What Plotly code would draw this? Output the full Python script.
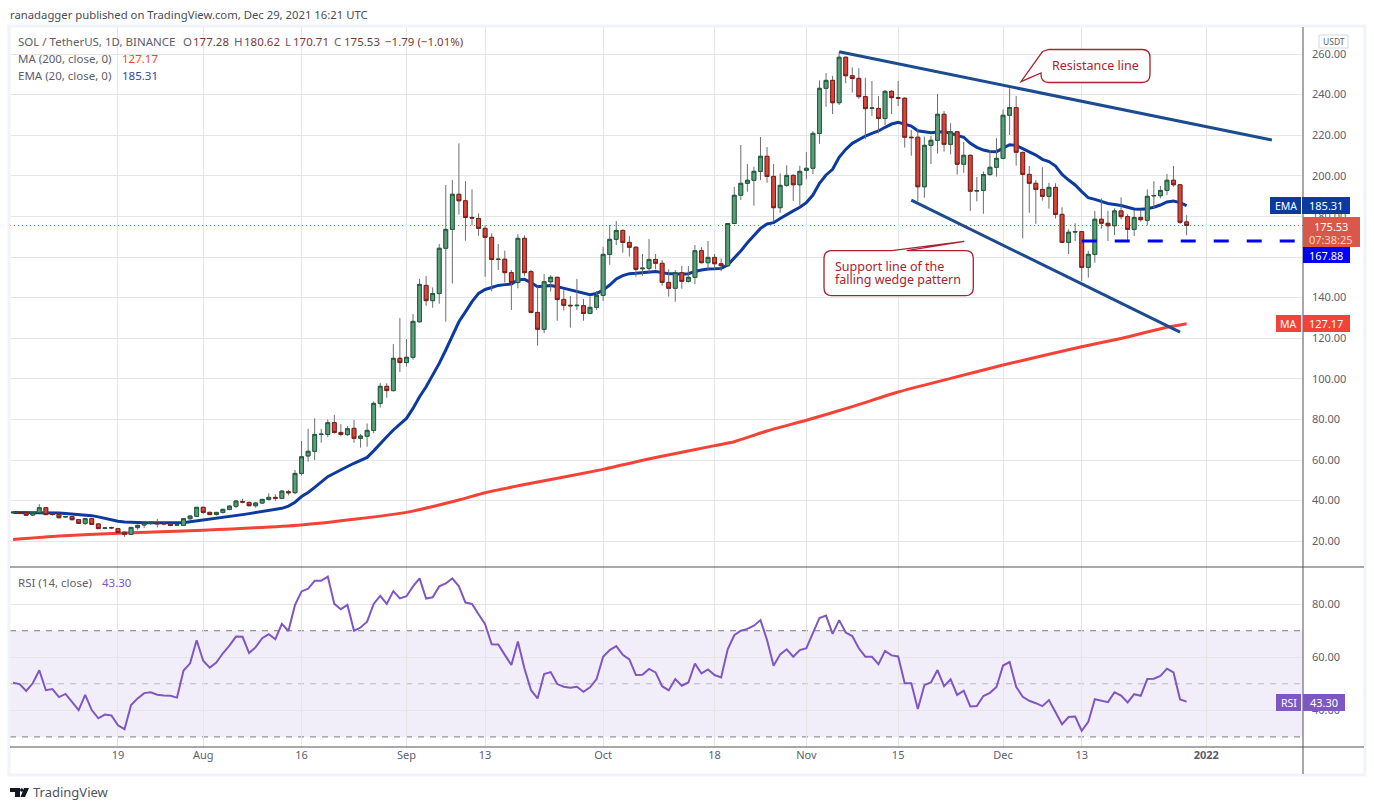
import pandas as pd
import plotly.graph_objects as go

W, H = 1374, 810

# ---------------------------------------------------------------- #
# Chart values
# ---------------------------------------------------------------- #
first_day = "2021-07-03"

open_ = [34.0, 34.3, 34.1, 32.9, 34.2, 36.5, 33.5, 33.2, 32.0, 32.1, 30.6, 28.8, 31.1, 28.5, 26.4, 26.7,
         26.2, 24.4, 23.4, 26.7, 28.0, 28.8, 29.1, 28.7, 28.5, 27.9, 27.8, 31.1, 32.3, 36.7, 34.2, 33.2,
         34.2, 35.7, 37.2, 39.6, 39.1, 37.5, 38.8, 40.6, 41.6, 41.1, 44.4, 43.9, 53.4, 62.0, 64.3, 72.6,
         72.6, 78.4, 73.6, 72.5, 75.6, 70.7, 71.7, 74.6, 87.9, 96.3, 94.2, 110.1, 108.0, 110.6, 128.1, 146.0,
         138.5, 142.0, 164.3, 173.6, 190.9, 187.7, 179.5, 179.0, 174.1, 169.7, 158.8, 158.9, 152.3, 147.4, 169.2, 152.8,
         132.7, 124.4, 147.8, 150.0, 139.1, 136.2, 136.0, 136.0, 132.2, 135.2, 141.1, 161.3, 168.7, 173.1, 167.2, 164.8,
         154.2, 154.4, 158.8, 156.9, 147.5, 144.6, 152.3, 148.0, 150.0, 163.1, 157.2, 159.8, 156.7, 155.7, 176.5, 190.4,
         196.3, 197.8, 202.2, 209.6, 199.7, 184.3, 195.3, 200.2, 195.6, 202.7, 203.7, 220.9, 243.1, 247.0, 236.0, 258.4,
         249.3, 248.0, 239.0, 233.2, 233.2, 228.2, 241.6, 238.5, 238.2, 219.0, 219.0, 194.6, 215.0, 217.5, 230.3, 215.5,
         221.7, 205.7, 210.1, 192.5, 192.8, 200.6, 204.2, 208.6, 229.8, 233.6, 211.5, 200.7, 196.3, 193.3, 189.9, 194.3,
         181.0, 167.2, 172.3, 172.5, 154.9, 161.3, 178.6, 176.6, 175.4, 182.7, 179.9, 173.6, 179.5, 178.1, 190.1, 190.2,
         192.8, 197.8, 195.6, 177.28]
high = [34.9, 34.9, 34.4, 34.4, 38.3, 36.7, 33.9, 33.5, 32.3, 32.3, 30.8, 31.4, 31.3, 28.8, 26.9, 27.2,
        26.5, 24.8, 27.0, 28.2, 29.0, 29.8, 31.0, 30.0, 28.8, 28.4, 31.4, 32.8, 36.9, 37.0, 34.6, 34.4,
        36.0, 37.6, 40.4, 40.9, 39.6, 39.4, 40.9, 43.6, 43.1, 45.2, 45.3, 55.1, 69.4, 75.3, 80.5, 75.3,
        80.0, 82.2, 77.7, 76.7, 79.7, 72.8, 78.0, 88.9, 97.9, 97.8, 117.1, 130.0, 119.6, 131.9, 149.2, 150.6,
        145.0, 166.4, 195.5, 197.9, 216.0, 197.4, 193.3, 181.5, 175.5, 171.7, 166.4, 163.1, 153.6, 171.3, 170.7, 153.6,
        145.4, 151.6, 151.0, 150.2, 144.0, 140.8, 149.2, 139.3, 140.5, 143.2, 165.0, 175.8, 177.7, 173.6, 170.3, 165.4,
        161.5, 168.9, 161.5, 158.5, 153.9, 153.6, 155.6, 155.6, 165.9, 164.8, 167.9, 161.5, 159.3, 176.8, 194.5, 215.2,
        205.8, 204.5, 219.1, 214.2, 205.8, 201.2, 205.2, 200.8, 205.0, 211.7, 222.0, 247.0, 250.6, 249.2, 261.0, 258.7,
        253.4, 253.0, 248.3, 246.7, 239.3, 242.3, 242.3, 246.7, 238.7, 222.6, 222.9, 219.3, 219.6, 240.3, 231.9, 225.9,
        222.0, 216.7, 210.5, 199.4, 202.2, 212.7, 218.5, 232.7, 243.1, 239.3, 212.0, 204.8, 197.9, 204.2, 196.6, 196.3,
        184.5, 173.6, 176.6, 172.8, 163.1, 182.7, 188.9, 182.7, 184.0, 189.4, 181.0, 183.2, 183.2, 193.3, 197.4, 195.0,
        200.9, 204.8, 195.9, 180.62]
low = [33.6, 33.8, 32.5, 32.6, 33.9, 32.9, 32.6, 31.2, 31.7, 30.3, 28.6, 27.9, 28.1, 26.0, 25.9, 26.0,
       24.0, 22.2, 23.1, 25.6, 26.6, 28.0, 26.8, 27.8, 27.4, 27.6, 27.5, 30.5, 32.0, 33.5, 32.9, 32.6,
       33.6, 35.2, 36.3, 38.6, 37.1, 36.5, 38.4, 40.0, 39.8, 40.9, 42.6, 43.2, 52.3, 59.2, 60.0, 68.5,
       71.2, 73.0, 71.7, 72.0, 68.5, 66.1, 66.6, 73.1, 85.8, 90.7, 93.7, 103.4, 106.0, 109.4, 127.7, 136.0,
       135.0, 137.0, 128.1, 146.9, 180.9, 168.0, 175.6, 170.5, 150.3, 143.2, 153.6, 147.4, 133.9, 144.6, 150.6, 132.2,
       116.3, 122.4, 143.0, 128.6, 133.6, 125.2, 133.9, 128.6, 131.8, 133.9, 138.3, 156.2, 165.9, 162.1, 160.2, 150.3,
       150.8, 152.4, 153.9, 145.9, 140.5, 138.0, 144.4, 147.4, 146.7, 156.9, 153.1, 154.0, 153.1, 155.3, 176.2, 188.1,
       192.2, 185.3, 197.9, 196.6, 177.4, 181.8, 194.6, 187.6, 185.6, 198.3, 200.9, 215.8, 234.0, 230.4, 234.9, 245.6,
       241.0, 238.0, 218.0, 229.5, 220.9, 225.0, 230.4, 234.4, 213.9, 209.9, 187.4, 189.2, 205.8, 211.0, 211.9, 210.6,
       200.6, 201.5, 182.7, 187.4, 181.3, 200.0, 199.6, 208.1, 220.1, 205.0, 169.2, 181.8, 176.3, 187.8, 183.8, 179.0,
       167.2, 161.5, 167.9, 148.3, 149.8, 157.2, 174.0, 167.9, 170.8, 178.6, 168.0, 170.3, 177.4, 175.6, 184.0, 188.9,
       190.5, 194.6, 176.3, 170.71]
close = [34.3, 34.2, 32.8, 34.2, 36.5, 33.1, 33.2, 31.6, 32.1, 30.6, 28.8, 31.1, 28.3, 26.2, 26.5, 26.6,
         24.2, 23.4, 26.8, 27.8, 28.8, 29.3, 28.6, 28.6, 27.8, 28.0, 31.1, 32.4, 36.7, 34.2, 33.1, 34.2,
         35.7, 37.3, 39.8, 39.3, 37.5, 38.8, 40.6, 41.6, 41.1, 44.7, 43.9, 53.4, 61.6, 64.3, 72.6, 72.7,
         78.4, 73.6, 72.6, 75.4, 70.7, 71.8, 74.6, 87.9, 96.3, 94.2, 110.1, 108.0, 110.6, 128.3, 146.5, 138.5,
         142.0, 164.3, 173.6, 190.9, 187.7, 179.5, 179.2, 174.1, 169.7, 158.8, 158.9, 152.3, 147.4, 169.2, 152.3, 132.7,
         124.4, 147.8, 150.0, 139.1, 136.2, 136.0, 136.2, 132.2, 135.2, 141.1, 161.3, 168.7, 173.1, 167.2, 164.8, 153.9,
         154.5, 158.8, 156.9, 147.5, 144.6, 152.3, 148.0, 150.0, 163.1, 157.2, 159.8, 156.7, 155.7, 176.5, 190.4, 196.3,
         197.8, 202.2, 209.6, 199.7, 184.3, 195.3, 200.2, 195.6, 202.2, 203.7, 220.9, 243.1, 247.0, 236.0, 258.4, 249.3,
         247.9, 239.0, 233.1, 233.4, 228.2, 241.6, 238.5, 238.2, 219.0, 218.8, 194.6, 215.0, 217.5, 230.3, 215.5, 221.7,
         205.7, 210.1, 192.4, 192.7, 200.6, 204.2, 208.6, 229.8, 233.6, 211.6, 200.7, 196.3, 193.3, 189.9, 194.3, 181.0,
         167.2, 172.2, 172.5, 154.9, 161.3, 178.6, 176.6, 175.4, 182.7, 179.9, 173.6, 179.5, 178.4, 189.9, 190.3, 192.8,
         197.8, 195.6, 177.1, 175.53]

ema20 = [34.1, 34.1, 34.1, 34.2, 34.2, 34.2, 34.1, 33.9, 33.7, 33.5, 33.3, 33.1, 32.6, 32.0, 31.3, 30.6,
         29.8, 29.5, 29.3, 29.2, 29.1, 29.1, 29.1, 29.1, 29.1, 29.1, 29.1, 29.6, 30.0, 30.4, 30.8, 31.2,
         31.7, 32.1, 32.6, 33.1, 33.6, 34.1, 34.6, 35.1, 35.7, 36.2, 37.3, 39.2, 42.0, 44.0, 46.5, 49.2,
         51.8, 53.5, 55.0, 56.8, 58.4, 59.8, 61.3, 64.5, 68.2, 71.5, 74.8, 77.7, 80.5, 85.4, 91.2, 96.1,
         101.9, 107.6, 114.2, 121.6, 128.1, 133.0, 138.0, 142.1, 144.0, 145.0, 146.0, 146.4, 146.7, 148.7, 149.0, 147.4,
         145.4, 145.7, 145.9, 145.4, 144.6, 143.7, 142.9, 141.9, 141.4, 142.0, 143.7, 146.2, 149.2, 150.8, 151.8, 152.0,
         152.3, 152.8, 152.9, 152.3, 151.8, 151.8, 151.5, 151.8, 152.9, 153.6, 154.1, 154.2, 154.4, 156.1, 159.3, 163.0,
         167.0, 170.8, 174.1, 176.3, 176.9, 179.0, 181.0, 182.7, 184.5, 186.8, 190.5, 196.3, 200.4, 203.2, 209.1, 213.0,
         216.0, 218.0, 219.6, 220.9, 222.1, 223.9, 225.5, 226.3, 225.4, 224.5, 222.2, 221.6, 221.2, 221.6, 221.7, 220.9,
         220.1, 219.0, 216.0, 214.0, 212.7, 212.0, 211.9, 213.5, 215.3, 215.0, 213.5, 212.0, 210.2, 208.1, 207.0, 204.8,
         200.7, 197.9, 195.5, 192.2, 189.2, 188.4, 187.4, 186.4, 185.9, 185.4, 184.5, 183.7, 183.5, 183.8, 184.5, 185.6,
         187.1, 187.6, 186.8, 185.31]

rsi14 = [50.4, 49.9, 47.3, 50.2, 55.1, 47.6, 48.0, 45.0, 46.2, 43.3, 40.1, 45.8, 40.1, 37.0, 38.4, 38.1,
         34.4, 32.9, 42.0, 44.5, 46.5, 46.8, 45.9, 45.6, 45.5, 44.8, 55.0, 57.7, 66.4, 58.7, 56.1, 58.0,
         61.5, 64.4, 67.8, 67.7, 61.6, 63.8, 67.2, 68.7, 66.8, 72.6, 69.9, 79.7, 84.8, 85.8, 88.8, 88.8,
         90.4, 80.1, 78.1, 79.7, 70.0, 71.2, 73.4, 80.1, 83.1, 80.1, 84.9, 82.2, 83.0, 86.7, 89.7, 82.1,
         82.6, 86.7, 87.8, 89.7, 86.7, 80.6, 80.1, 76.2, 72.5, 64.9, 64.8, 60.9, 57.1, 65.9, 55.8, 47.6,
         44.5, 53.7, 54.4, 49.9, 48.9, 48.5, 48.9, 47.0, 48.7, 51.8, 60.2, 62.7, 64.2, 60.9, 59.2, 53.3,
         53.4, 55.6, 54.3, 49.1, 47.5, 51.8, 49.3, 50.5, 57.6, 53.9, 55.4, 53.3, 52.4, 63.0, 68.3, 70.0,
         70.7, 71.9, 74.0, 66.5, 56.8, 61.1, 63.0, 60.2, 62.7, 63.4, 69.4, 74.8, 75.7, 68.8, 74.0, 69.3,
         68.0, 63.4, 60.2, 60.2, 57.4, 62.4, 60.7, 60.3, 50.2, 50.2, 40.5, 49.5, 50.5, 55.2, 49.1, 51.7,
         45.8, 47.4, 41.5, 41.6, 45.4, 46.6, 48.8, 56.9, 58.2, 48.9, 45.1, 43.6, 42.7, 41.6, 43.9, 39.5,
         34.8, 37.5, 37.7, 32.3, 35.7, 44.2, 43.7, 43.1, 46.8, 45.6, 43.0, 46.1, 45.5, 51.8, 51.9, 53.0,
         55.7, 54.3, 44.1, 43.3]

ma200_dates = ["2021-07-03", "2021-07-10", "2021-07-19", "2021-08-01", "2021-08-16", "2021-08-24", "2021-09-01",
               "2021-09-09", "2021-09-13", "2021-09-19", "2021-10-01", "2021-10-09", "2021-10-18", "2021-10-21",
               "2021-10-26", "2021-11-01", "2021-11-08", "2021-11-15", "2021-11-23", "2021-12-01", "2021-12-08",
               "2021-12-13", "2021-12-19", "2021-12-26", "2021-12-29"]
ma200 = [20.9, 22.6, 23.9, 25.4, 28.0, 30.8, 34.2, 40.3, 43.9, 47.9, 55.4, 61.2, 67.1, 69.0, 74.3, 79.6, 86.3,
         93.5, 100.2, 106.8, 112.1, 115.8, 119.9, 125.4, 127.17]

resistance_x = ["2021-11-06", "2022-01-11"]
resistance_y = [261.1, 217.6]
support_x = ["2021-11-17", "2021-12-28"]
support_y = [188.0, 123.0]
level_x = ["2021-12-13", "2022-01-14 12:00"]
level_y = 167.88
last_price = 175.53

rsi_levels = [70, 50, 30]
rsi_ticks = [40, 60, 80]

time_ticks = ["2021-07-19", "2021-08-01", "2021-08-16", "2021-09-01", "2021-09-13", "2021-10-01",
              "2021-10-18", "2021-11-01", "2021-11-15", "2021-12-01", "2021-12-13", "2022-01-01"]
time_labels = ["19", "Aug", "16", "Sep", "13", "Oct", "18", "Nov", "15", "Dec", "13", "<b>2022</b>"]

# ---------------------------------------------------------------- #
# Styling
# ---------------------------------------------------------------- #
FONT = "Noto Sans"
GREY = "#5d606b"
GRID = "#e6e6e6"
FRAME = "#f0f3fa"
AXIS = "#50535e"
UP_FILL, UP_LINE = "#5b9f7a", "#1f5c3d"
DOWN_FILL, DOWN_LINE = "#d8463a", "#7a1f1c"
WICK = "#6e6e6e"
NAVY = "#0d3a9e"
TREND = "#1c4b8f"
RED = "#f44336"
PURPLE = "#7e57c2"
NOTE = "#a8232e"
DARK_RED = "#7b3a36"


def px(x):
    return x / W


def py(y):
    return 1 - y / H


def box_path(x0, y0, x1, y1, r, top=(), left=()):
    # rounded box, tail points go in on the top or the left side
    pts = [f"M{px(x0 + r)},{py(y0)}"]
    pts += [f"L{px(a)},{py(b)}" for a, b in top]
    pts.append(f"L{px(x1 - r)},{py(y0)}")
    pts.append(f"Q{px(x1)},{py(y0)} {px(x1)},{py(y0 + r)}")
    pts.append(f"L{px(x1)},{py(y1 - r)}")
    pts.append(f"Q{px(x1)},{py(y1)} {px(x1 - r)},{py(y1)}")
    pts.append(f"L{px(x0 + r)},{py(y1)}")
    pts.append(f"Q{px(x0)},{py(y1)} {px(x0)},{py(y1 - r)}")
    if left:
        # the tail runs straight back into the top corner
        pts += [f"L{px(a)},{py(b)}" for a, b in left]
        pts.append("Z")
    else:
        pts.append(f"L{px(x0)},{py(y0 + r)}")
        pts.append(f"Q{px(x0)},{py(y0)} {px(x0 + r)},{py(y0)}Z")
    return " ".join(pts)


def paper_rect(x0, y0, x1, y1, fill, line=None, width=0):
    return dict(type="rect", xref="paper", yref="paper", layer="above",
                x0=px(x0), x1=px(x1), y0=py(y1), y1=py(y0), fillcolor=fill,
                line=dict(color=line or fill, width=width))


def paper_line(x0, y0, x1, y1, color, width=1):
    return dict(type="line", xref="paper", yref="paper", layer="above",
                x0=px(x0), x1=px(x1), y0=py(y0), y1=py(y1),
                line=dict(color=color, width=width))


def text(x, y, s, color=GREY, size=11.5, anchor="left"):
    return dict(xref="paper", yref="paper", x=px(x), y=py(y), text=s, showarrow=False,
                xanchor=anchor, yanchor="middle", align=anchor,
                font=dict(family=FONT, size=size, color=color), borderpad=0, borderwidth=0)


dates = pd.date_range(first_day, periods=len(close), freq="D")
body_top = [max(a, b) for a, b in zip(open_, close)]
body_bottom = [min(a, b) for a, b in zip(open_, close)]

fig = go.Figure()

fig.add_trace(go.Scatter(x=ma200_dates, y=ma200, mode="lines",
                         line=dict(color=RED, width=3, shape="spline", smoothing=0.6),
                         xaxis="x", yaxis="y", name="MA"))
fig.add_trace(go.Scatter(x=dates, y=ema20, mode="lines", line=dict(color=NAVY, width=3),
                         xaxis="x", yaxis="y", name="EMA"))

# candles sit on an overlay pair so they are drawn above the two averages
fig.add_trace(go.Candlestick(x=dates, open=open_, high=high, low=low, close=close,
                             increasing=dict(line=dict(color=WICK, width=1), fillcolor=WICK),
                             decreasing=dict(line=dict(color=WICK, width=1), fillcolor=WICK),
                             xaxis="x3", yaxis="y3", name="wicks"))
fig.add_trace(go.Candlestick(x=dates, open=open_, high=body_top, low=body_bottom, close=close,
                             increasing=dict(line=dict(color=UP_LINE, width=1), fillcolor=UP_FILL),
                             decreasing=dict(line=dict(color=DOWN_LINE, width=1), fillcolor=DOWN_FILL),
                             xaxis="x3", yaxis="y3", name="bodies"))

fig.add_trace(go.Scatter(x=dates, y=rsi14, mode="lines", line=dict(color=PURPLE, width=2),
                         xaxis="x2", yaxis="y2", name="RSI"))

x_range = ["2021-07-02 12:43", "2022-01-15 18:00"]
y_range = [7.3, 273.3]
x_style = dict(range=x_range, domain=[px(10), px(1303)], type="date", showgrid=True, gridcolor=GRID,
               gridwidth=1, zeroline=False, tickmode="array", tickvals=time_ticks, ticktext=time_labels,
               ticks="", rangeslider=dict(visible=False))
y_style = dict(side="right", showgrid=True, gridcolor=GRID, gridwidth=1, zeroline=False, ticks="",
               tickformat=".2f", ticklabelstandoff=8, tickfont=dict(family=FONT, size=11, color=GREY))

shapes = [
    # RSI band and levels
    dict(type="rect", xref="x2 domain", yref="y2", x0=0, x1=1, y0=rsi_levels[2], y1=rsi_levels[0],
         fillcolor="rgba(126,87,194,0.1)", line=dict(width=0), layer="below"),
    dict(type="line", xref="x2 domain", yref="y2", x0=0, x1=1, y0=rsi_levels[0], y1=rsi_levels[0],
         line=dict(color="#787b86", width=1, dash="6px,6px"), layer="below"),
    dict(type="line", xref="x2 domain", yref="y2", x0=0, x1=1, y0=rsi_levels[1], y1=rsi_levels[1],
         line=dict(color="#b9b7c4", width=1, dash="6px,6px"), layer="below"),
    dict(type="line", xref="x2 domain", yref="y2", x0=0, x1=1, y0=rsi_levels[2], y1=rsi_levels[2],
         line=dict(color="#787b86", width=1, dash="6px,6px"), layer="below"),
    # last price
    dict(type="line", xref="x domain", yref="y", x0=0, x1=1, y0=last_price, y1=last_price,
         line=dict(color="#d9584a", width=1, dash="1px,3px"), layer="below"),
    # drawn trend lines and level
    dict(type="line", xref="x", yref="y", x0=resistance_x[0], x1=resistance_x[1],
         y0=resistance_y[0], y1=resistance_y[1], line=dict(color=TREND, width=3), layer="above"),
    dict(type="line", xref="x", yref="y", x0=support_x[0], x1=support_x[1],
         y0=support_y[0], y1=support_y[1], line=dict(color=TREND, width=3), layer="above"),
    dict(type="line", xref="x", yref="y", x0=level_x[0], x1=level_x[1], y0=level_y, y1=level_y,
         line=dict(color="#0000ff", width=3, dash="15px,18px"), layer="above"),
    # frame and pane separators
    dict(type="rect", xref="paper", yref="paper", layer="above", x0=px(9), x1=px(1365), y0=py(775), y1=py(26),
         line=dict(color=FRAME, width=3), fillcolor="rgba(0,0,0,0)"),
    paper_line(10, 567, 1364, 567, AXIS),
    paper_line(10, 747, 1364, 747, AXIS),
    paper_line(1303, 27, 1303, 774, AXIS),
    # callouts
    dict(type="path", xref="paper", yref="paper", layer="above", fillcolor="white",
         line=dict(color=NOTE, width=1.3),
         path=box_path(1041, 49.5, 1150, 82.5, 8, left=[(1041, 73), (1021, 81.7), (1042.5, 51.5)])),
    dict(type="path", xref="paper", yref="paper", layer="above", fillcolor="white",
         line=dict(color=NOTE, width=1.3),
         path=box_path(824, 250.7, 973.3, 295.7, 8, top=[(891.7, 250.7), (964.3, 241.3), (906.7, 250.7)])),
    # price scale tags
    paper_rect(1270, 197, 1301, 214, NAVY),
    paper_rect(1302, 197, 1350, 214, NAVY),
    paper_rect(1276, 315, 1301, 332, RED),
    paper_rect(1303, 315, 1350, 332, RED),
    paper_rect(1303, 247, 1350, 263, "#0000ff"),
    paper_rect(1303, 217, 1360, 247, "#d9584a"),
    paper_rect(1276, 694, 1301, 711, PURPLE),
    paper_rect(1303, 694, 1345, 711, PURPLE),
    paper_rect(1319, 35, 1348, 48, "white", line="#d6d8e0", width=1),
    # TradingView mark
    dict(type="path", xref="paper", yref="paper", layer="above", fillcolor="#131722", line=dict(width=0),
         path=(f"M{px(10)},{py(788)} L{px(20)},{py(788)} L{px(20)},{py(797)} L{px(15)},{py(797)} "
               f"L{px(15)},{py(792)} L{px(10)},{py(792)}Z "
               f"M{px(24)},{py(788)} L{px(29)},{py(788)} L{px(25)},{py(797)} L{px(20.5)},{py(797)}Z")),
    dict(type="circle", xref="paper", yref="paper", layer="above", fillcolor="#131722", line=dict(width=0),
         x0=px(20), x1=px(23.4), y0=py(791.7), y1=py(788.3)),
]

white = "white"
annotations = [
    text(10, 15, "ranadagger published on TradingView.com, Dec 29, 2021 16:21 UTC", "#4a4d57", 11.3),
    text(18, 41.5, "SOL / TetherUS, 1D, BINANCE"),
    text(183, 41.5, "O"), text(192.5, 41.5, "177.28", DARK_RED),
    text(234, 41.5, "H"), text(243.5, 41.5, "180.62", DARK_RED),
    text(285, 41.5, "L"), text(292.5, 41.5, "170.71", DARK_RED),
    text(334, 41.5, "C"), text(343.5, 41.5, "175.53", DARK_RED),
    text(385, 41.5, "−1.79 (−1.01%)", DARK_RED),
    text(18, 58.5, "MA (200, close, 0)"), text(122, 58.5, "127.17", RED),
    text(18, 75.5, "EMA (20, close, 0)"), text(122, 75.5, "185.31", "#2a46a8"),
    text(18, 582.7, "RSI (14, close)"), text(102, 582.7, "43.30", PURPLE),
    text(1333.5, 41.5, "USDT", GREY, 8.5, "center"),
    text(1095.5, 65.5, "Resistance line", NOTE, 12.5, "center"),
    text(835, 266.7, "Support line of the", NOTE, 12.5),
    text(835, 279, "falling wedge pattern", NOTE, 12.5),
    text(1285.5, 205.5, "EMA", white, 10.5, "center"),
    text(1326, 205.5, "185.31", white, 11, "center"),
    text(1288.5, 323.5, "MA", white, 10.5, "center"),
    text(1326, 323.5, "127.17", white, 11, "center"),
    text(1326, 255, "167.88", white, 11, "center"),
    text(1331, 226, "175.53", white, 11, "center"),
    text(1331, 239, "07:38:25", "#f4d3ce", 11, "center"),
    text(1288.5, 702.5, "RSI", white, 10.5, "center"),
    text(1324, 702.5, "43.30", white, 11, "center"),
    text(33, 792, "TradingView", "#50535e", 13),
]

fig.update_layout(
    width=W, height=H, margin=dict(l=0, r=0, t=0, b=0), autosize=False,
    paper_bgcolor="white", plot_bgcolor="white", showlegend=False,
    boxmode="overlay", boxgap=0.25, boxgroupgap=0.22,
    font=dict(family=FONT, size=11, color=GREY),
    xaxis=dict(**x_style, anchor="y", showticklabels=False),
    yaxis=dict(**y_style, domain=[py(567), py(27)], range=y_range, anchor="x", dtick=20, tick0=0),
    xaxis2=dict(**x_style, anchor="y2", showticklabels=True, tickfont=dict(family=FONT, size=11, color=GREY)),
    yaxis2=dict(**y_style, domain=[py(747), py(567)], range=[26.2, 94], anchor="x2",
                tickmode="array", tickvals=rsi_ticks),
    xaxis3=dict(overlaying="x", range=x_range, domain=[px(10), px(1303)], type="date", visible=False,
                anchor="y3", rangeslider=dict(visible=False)),
    yaxis3=dict(overlaying="y", range=y_range, domain=[py(567), py(27)], visible=False, anchor="x3", side="right"),
    shapes=shapes,
    annotations=annotations,
)

fig.write_html("out.html", config=dict(displayModeBar=False), post_script="document.body.style.margin='0';")
